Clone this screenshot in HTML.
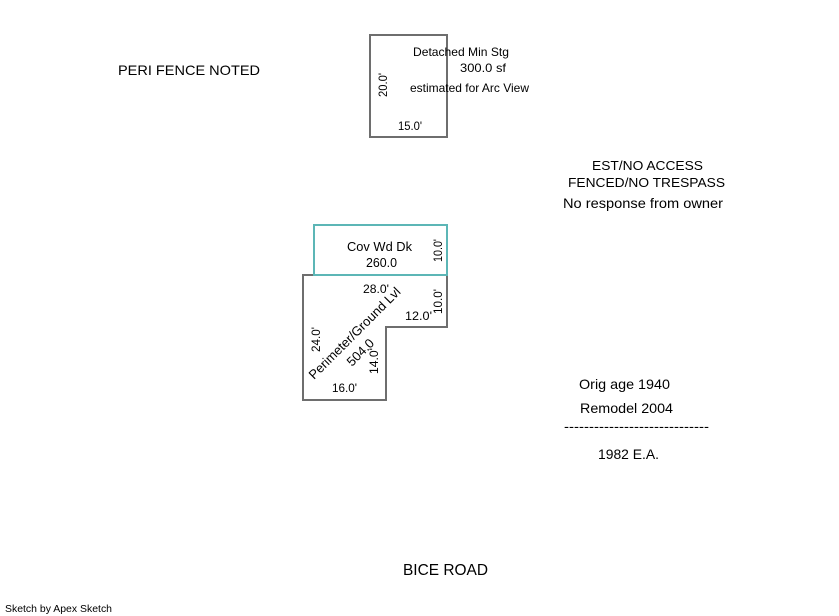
<!DOCTYPE html>
<html>
<head>
<meta charset="utf-8">
<style>
  html, body { margin: 0; padding: 0; background: #ffffff; }
  body { width: 839px; height: 616px; overflow: hidden; }
  svg { display: block; }
  text { font-family: "Liberation Sans", Arial, sans-serif; fill: #000; }
</style>
</head>
<body>
<svg width="839" height="616" viewBox="0 0 839 616" xmlns="http://www.w3.org/2000/svg">
  <!-- Detached Min Stg rectangle -->
  <rect x="370" y="35" width="77" height="102" fill="none" stroke="#6e6e6e" stroke-width="2"/>

  <!-- Main perimeter polygon -->
  <polygon points="303,275 447,275 447,327 386,327 386,400 303,400" fill="none" stroke="#6e6e6e" stroke-width="2"/>

  <!-- Cov Wd Dk (teal) -->
  <rect x="314" y="225" width="133" height="50" fill="none" stroke="#5cb6b6" stroke-width="2"/>

  <!-- Top-left note -->
  <text x="118" y="75" font-size="14" textLength="142" lengthAdjust="spacingAndGlyphs">PERI FENCE NOTED</text>

  <!-- Detached labels -->
  <text x="413" y="56" font-size="12" textLength="96" lengthAdjust="spacingAndGlyphs">Detached Min Stg</text>
  <text x="460" y="72" font-size="12" textLength="46" lengthAdjust="spacingAndGlyphs">300.0 sf</text>
  <text x="410" y="92" font-size="12" textLength="119" lengthAdjust="spacingAndGlyphs">estimated for Arc View</text>
  <text transform="translate(387,97) rotate(-90)" font-size="12" textLength="24" lengthAdjust="spacingAndGlyphs">20.0'</text>
  <text x="398" y="130" font-size="12" textLength="24" lengthAdjust="spacingAndGlyphs">15.0'</text>

  <!-- Right notes -->
  <text x="592" y="170" font-size="13" textLength="111" lengthAdjust="spacingAndGlyphs">EST/NO ACCESS</text>
  <text x="568" y="187" font-size="13" textLength="157" lengthAdjust="spacingAndGlyphs">FENCED/NO TRESPASS</text>
  <text x="563" y="208" font-size="14" textLength="160" lengthAdjust="spacingAndGlyphs">No response from owner</text>

  <!-- Cov Wd Dk labels -->
  <text x="347" y="251" font-size="13" textLength="65" lengthAdjust="spacingAndGlyphs">Cov Wd Dk</text>
  <text x="366" y="267" font-size="13" textLength="31" lengthAdjust="spacingAndGlyphs">260.0</text>
  <text transform="translate(442,262) rotate(-90)" font-size="12" textLength="23" lengthAdjust="spacingAndGlyphs">10.0'</text>

  <!-- Main polygon labels -->
  <text x="363" y="293" font-size="12" textLength="26" lengthAdjust="spacingAndGlyphs">28.0'</text>
  <text transform="translate(442,314) rotate(-90)" font-size="12" textLength="25" lengthAdjust="spacingAndGlyphs">10.0'</text>
  <text x="405" y="320" font-size="12" textLength="27" lengthAdjust="spacingAndGlyphs">12.0'</text>
  <text transform="translate(320,352) rotate(-90)" font-size="12" textLength="25" lengthAdjust="spacingAndGlyphs">24.0'</text>
  <text transform="translate(378,374) rotate(-90)" font-size="12" textLength="26" lengthAdjust="spacingAndGlyphs">14.0'</text>
  <text x="332" y="392" font-size="12" textLength="25" lengthAdjust="spacingAndGlyphs">16.0'</text>
  <text transform="translate(314,380) rotate(-45)" font-size="13">Perimeter/Ground Lvl</text>
  <text transform="translate(352,367) rotate(-45)" font-size="13">504.0</text>

  <!-- Age notes -->
  <text x="579" y="389" font-size="14" textLength="91" lengthAdjust="spacingAndGlyphs">Orig age 1940</text>
  <text x="580" y="413" font-size="14" textLength="93" lengthAdjust="spacingAndGlyphs">Remodel 2004</text>
  <text x="564" y="431" font-size="14" textLength="145" lengthAdjust="spacingAndGlyphs">-----------------------------</text>
  <text x="598" y="459" font-size="14" textLength="61" lengthAdjust="spacingAndGlyphs">1982 E.A.</text>

  <!-- Road -->
  <text x="403" y="575" font-size="16" textLength="85" lengthAdjust="spacingAndGlyphs">BICE ROAD</text>

  <!-- Footer -->
  <text x="5" y="612" font-size="10" textLength="107" lengthAdjust="spacingAndGlyphs">Sketch by Apex Sketch</text>
</svg>
</body>
</html>
